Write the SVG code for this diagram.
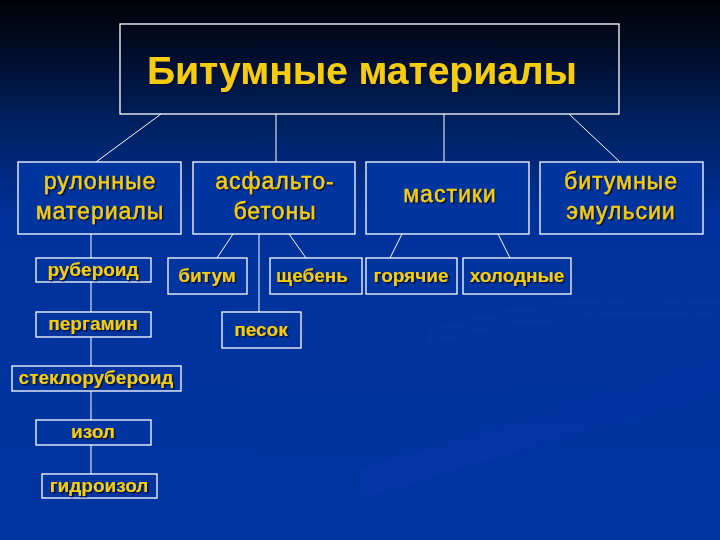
<svg xmlns="http://www.w3.org/2000/svg" width="720" height="540" viewBox="0 0 720 540">
<defs>
<linearGradient id="bg" x1="0" y1="0" x2="0" y2="1">
<stop offset="0" stop-color="#000208"/>
<stop offset="0.08" stop-color="#000a22"/>
<stop offset="0.22" stop-color="#00205e"/>
<stop offset="0.4" stop-color="#00319a"/>
<stop offset="1" stop-color="#0036a2"/>
</linearGradient>
<filter id="sh" x="-10%" y="-20%" width="120%" height="140%">
<feDropShadow dx="1.5" dy="1.5" stdDeviation="0.4" flood-color="#001030" flood-opacity="0.9"/>
</filter>
<style>
.box{fill:#00349e;stroke:#ffffff;stroke-width:1.3}
.tb{fill:none;stroke:#ffffff;stroke-width:1.3}
.ln{stroke:#ffffff;stroke-width:1;fill:none}
.t{font-family:"Liberation Sans",Arial,sans-serif;fill:#f7cc10;text-anchor:middle;filter:url(#sh)}
.title{font-size:39px;font-weight:bold}
.l2{font-size:23px;letter-spacing:1px;stroke:#f7cc10;stroke-width:0.35}
.l3{font-size:19px;font-weight:bold}
</style>
</defs>
<rect x="0" y="0" width="720" height="540" fill="url(#bg)"/>
<path d="M360 470 C 480 430, 600 400, 720 360 L720 390 C 600 430, 480 460, 360 500 Z" fill="#0a3aa8" opacity="0.35"/>
<path d="M430 330 C 520 300, 620 290, 720 300 L720 320 C 620 312, 520 320, 430 345 Z" fill="#0a3aa8" opacity="0.3"/>

<g id="connectors">
<line class="ln" x1="161" y1="114" x2="96" y2="162"/>
<line class="ln" x1="276" y1="114" x2="276" y2="162"/>
<line class="ln" x1="444" y1="114" x2="444" y2="162"/>
<line class="ln" x1="569" y1="114" x2="620" y2="162"/>
<line class="ln" x1="91" y1="234" x2="91" y2="474"/>
<line class="ln" x1="259" y1="234" x2="259" y2="312"/>
<line class="ln" x1="233" y1="234" x2="217" y2="258"/>
<line class="ln" x1="289" y1="234" x2="306" y2="258"/>
<line class="ln" x1="402" y1="234" x2="390" y2="258"/>
<line class="ln" x1="498" y1="234" x2="510" y2="258"/>
</g>

<g id="n-title">
<rect class="tb" x="120" y="24" width="499" height="90"/>
<text class="t title" x="362" y="84">Битумные материалы</text>
</g>

<g id="n-rulon">
<rect class="box" x="18" y="162" width="163" height="72"/>
<text class="t l2" x="100" y="189">рулонные</text>
<text class="t l2" x="100" y="219">материалы</text>
</g>
<g id="n-asfalt">
<rect class="box" x="193" y="162" width="162" height="72"/>
<text class="t l2" x="275" y="189">асфальто-</text>
<text class="t l2" x="275" y="219">бетоны</text>
</g>
<g id="n-mastiki">
<rect class="box" x="366" y="162" width="163" height="72"/>
<text class="t l2" x="450" y="202">мастики</text>
</g>
<g id="n-emuls">
<rect class="box" x="540" y="162" width="163" height="72"/>
<text class="t l2" x="621" y="189">битумные</text>
<text class="t l2" x="621" y="219">эмульсии</text>
</g>

<g id="n-ruberoid">
<rect class="box" x="36" y="258" width="115" height="24"/>
<text class="t l3" x="93" y="276">рубероид</text>
</g>
<g id="n-pergamin">
<rect class="box" x="36" y="312" width="115" height="25"/>
<text class="t l3" x="93" y="330">пергамин</text>
</g>
<g id="n-stekloruberoid">
<rect class="box" x="12" y="366" width="169" height="25"/>
<text class="t l3" x="96" y="384">стеклорубероид</text>
</g>
<g id="n-izol">
<rect class="box" x="36" y="420" width="115" height="25"/>
<text class="t l3" x="93" y="438">изол</text>
</g>
<g id="n-gidroizol">
<rect class="box" x="42" y="474" width="115" height="24"/>
<text class="t l3" x="99" y="492">гидроизол</text>
</g>

<g id="n-bitum">
<rect class="box" x="168" y="258" width="79" height="36"/>
<text class="t l3" x="207" y="282">битум</text>
</g>
<g id="n-scheben">
<rect class="box" x="270" y="258" width="92" height="36"/>
<text class="t l3" x="312" y="282">щебень</text>
</g>
<g id="n-pesok">
<rect class="box" x="222" y="312" width="79" height="36"/>
<text class="t l3" x="261" y="336">песок</text>
</g>
<g id="n-goryachie">
<rect class="box" x="366" y="258" width="91" height="36"/>
<text class="t l3" x="411" y="282">горячие</text>
</g>
<g id="n-holodnye">
<rect class="box" x="463" y="258" width="108" height="36"/>
<text class="t l3" x="517" y="282">холодные</text>
</g>
</svg>
